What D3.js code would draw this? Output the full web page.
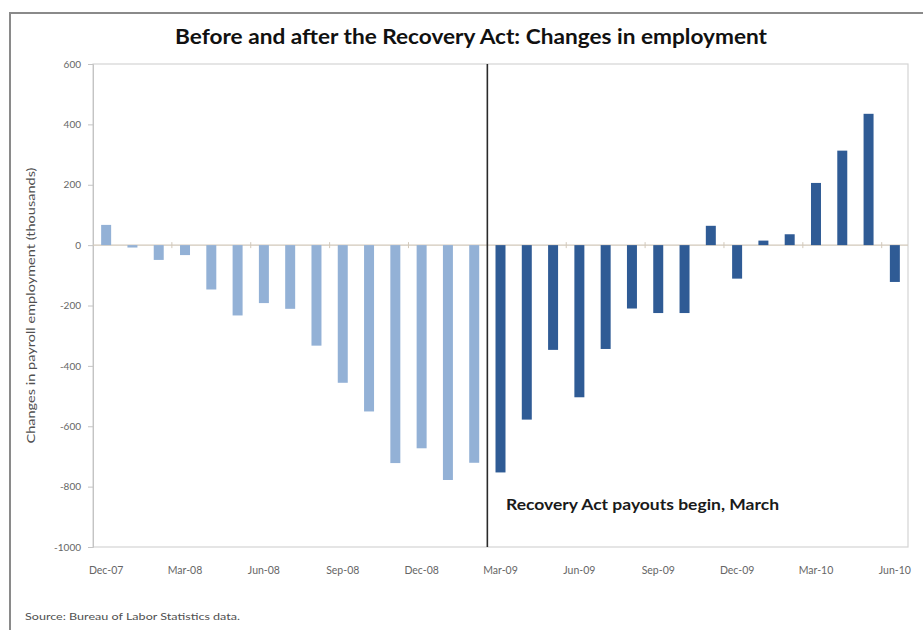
<!DOCTYPE html>
<html><head><meta charset="utf-8">
<script src="https://cdn.jsdelivr.net/npm/d3@7"></script>
<style>body{margin:0;background:#fff}svg{display:block}</style>
</head><body>
<script>
const months = ["Dec-07","Jan-08","Feb-08","Mar-08","Apr-08","May-08","Jun-08","Jul-08","Aug-08","Sep-08","Oct-08","Nov-08","Dec-08","Jan-09","Feb-09","Mar-09","Apr-09","May-09","Jun-09","Jul-09","Aug-09","Sep-09","Oct-09","Nov-09","Dec-09","Jan-10","Feb-10","Mar-10","Apr-10","May-10","Jun-10"];
const changes = [67,-8,-49,-33,-147,-233,-192,-211,-333,-456,-551,-722,-673,-778,-721,-753,-578,-347,-504,-344,-210,-225,-225,64,-111,15,36,206,313,435,-122];
const xTickLabels = ["Dec-07","Mar-08","Jun-08","Sep-08","Dec-08","Mar-09","Jun-09","Sep-09","Dec-09","Mar-10","Jun-10"];
const yTicks = [600,400,200,0,-200,-400,-600,-800,-1000];
const actStart = "Mar-09";
const title = "Before and after the Recovery Act: Changes in employment";
const yTitle = "Changes in payroll employment (thousands)";
const annotation = "Recovery Act payouts begin, March";
const source = "Source: Bureau of Labor Statistics data.";

const W = 923, H = 630;
const L = 93, R = 908, T = 64, B = 547;
const svg = d3.select("body").append("svg").attr("width", W).attr("height", H);
const font = "Lato, 'Open Sans', sans-serif";

// outer frame
svg.append("rect").attr("x",10).attr("y",13).attr("width",940).attr("height",660)
  .attr("fill","none").attr("stroke","#8a8a8a").attr("stroke-width",2);

const x = d3.scaleBand().domain(months).range([L, R]).paddingInner(0.62).paddingOuter(0.31);
const y = d3.scaleLinear().domain([-1000, 600]).range([B, T]);

// plot border
svg.append("rect").attr("x",L).attr("y",T).attr("width",R-L).attr("height",B-T)
  .attr("fill","none").attr("stroke","#d4d4d4").attr("stroke-width",1.2);

// y axis
const yAxis = d3.axisLeft(y).tickValues(yTicks).tickSize(5).tickPadding(7).tickFormat(d => String(d));
const gy = svg.append("g").attr("transform",`translate(${L},0)`).call(yAxis);
gy.select(".domain").attr("stroke","#c4c4c4");
gy.selectAll(".tick line").attr("stroke","#c4c4c4");
gy.selectAll(".tick text").attr("fill","#666").style("font-family",font).style("font-size","10px");

// zero line
svg.append("line").attr("x1",L).attr("x2",R).attr("y1",y(0)).attr("y2",y(0))
  .attr("stroke","#d2c8ba").attr("stroke-width",1.2);
// small ticks on zero line at left edge of each quarter band
const step = x.step();
xTickLabels.forEach(m => {
  const xx = x(m) + x.bandwidth()/2 - step/2;
  if (xx > L + 2) svg.append("line").attr("x1",xx).attr("x2",xx).attr("y1",y(0)-3).attr("y2",y(0)+3)
    .attr("stroke","#d2c8ba").attr("stroke-width",1);
});

// bars
const actIdx = months.indexOf(actStart);
svg.append("g").selectAll("rect").data(changes).join("rect")
  .attr("x",(d,i)=>x(months[i]))
  .attr("width",x.bandwidth())
  .attr("y",d=>y(Math.max(0,d)))
  .attr("height",d=>Math.max(1.5, Math.abs(y(d)-y(0))))
  .attr("fill",(d,i)=> i < actIdx ? "#93b1d6" : "#2f5b95");

// x labels
const xAxis = d3.axisBottom(x).tickValues(xTickLabels).tickSize(0).tickPadding(0);
const gx = svg.append("g").attr("transform",`translate(0,${B+20})`).call(xAxis);
gx.select(".domain").remove();
gx.selectAll(".tick text").attr("fill","#666").style("font-family",font).style("font-size","10.5px");

// vertical divider
const vx = x(actStart) - (step - x.bandwidth())/2;
svg.append("line").attr("x1",vx).attr("x2",vx).attr("y1",T).attr("y2",B)
  .attr("stroke","#2a2a2a").attr("stroke-width",1.6);

// annotation
svg.append("text").attr("x",506).attr("y",510).text(annotation)
  .attr("textLength",273).attr("lengthAdjust","spacingAndGlyphs")
  .style("font-family",font).style("font-size","14.5px").style("font-weight","bold").attr("fill","#1a1a1a");

// title
svg.append("text").attr("x",175).attr("y",44).text(title)
  .attr("textLength",592).attr("lengthAdjust","spacingAndGlyphs")
  .style("font-family",font).style("font-size","21px").style("font-weight","bold").attr("fill","#111");

// y title
svg.append("text").attr("transform",`translate(35,${(T+B)/2}) rotate(-90)`).attr("text-anchor","middle")
  .text(yTitle).attr("textLength",276).attr("lengthAdjust","spacingAndGlyphs")
  .style("font-family",font).style("font-size","12px").attr("fill","#505050");

// source
svg.append("text").attr("x",25).attr("y",620).text(source)
  .attr("textLength",215).attr("lengthAdjust","spacingAndGlyphs")
  .style("font-family",font).style("font-size","10px").attr("fill","#505050");
</script>
</body></html>
